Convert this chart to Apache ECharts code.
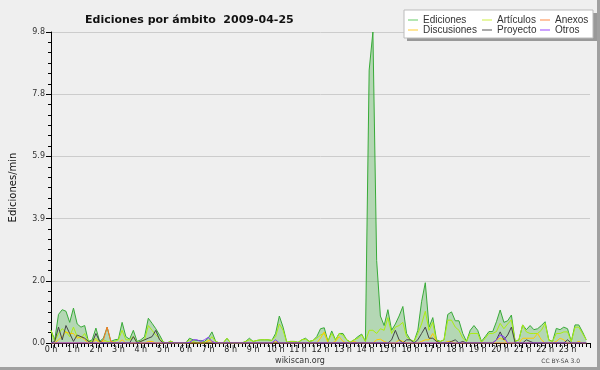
<!DOCTYPE html>
<html>
<head>
<meta charset="utf-8">
<script src="https://cdn.jsdelivr.net/npm/echarts@6/dist/echarts.min.js"></script>
<style>
html,body{margin:0;padding:0;background:#efefef;}
#c{width:600px;height:370px;}
</style>
</head>
<body>
<div id="c"></div>
<script>
// 10-minute slots, 0h .. 23h50
const hours = Array.from({length:144}, (_, i) => i / 6);
const yTicks = [0, 1.96, 3.92, 5.88, 7.84, 9.8];

const ediciones = [
0.4,0.1,0.9,1.05,1.0,0.65,1.1,0.6,0.5,0.55,0.05,0.1,
0.47,0.05,0.15,0.5,0.05,0.1,0.12,0.65,0.2,0.12,0.4,0.05,
0.1,0.2,0.78,0.62,0.45,0.25,0.03,0,0.06,0,0,0,
0,0.15,0.1,0.08,0.08,0.05,0.15,0.35,0.05,0,0,0.15,
0,0,0,0,0.05,0.15,0.05,0.08,0.1,0.1,0.1,0.08,
0.3,0.85,0.5,0.02,0.05,0.05,0.02,0.1,0.15,0.05,0.08,0.2,
0.45,0.48,0.05,0.38,0.1,0.3,0.3,0.1,0.03,0.1,0.2,0.28,
0.05,8.6,9.8,2.6,0.85,0.55,1.05,0.4,0.6,0.85,1.15,0.3,
0.1,0.05,0.4,1.3,1.9,0.5,0.8,0.1,0.05,0.1,0.9,0.98,
0.7,0.7,0.3,0.05,0.4,0.55,0.4,0.05,0.2,0.36,0.36,0.67,
1.04,0.65,0.7,0.88,0.05,0.1,0.57,0.42,0.55,0.42,0.45,0.55,
0.67,0.1,0.05,0.46,0.42,0.5,0.45,0.05,0.57,0.57,0.35,0.1
];
const articulos = [
0.4,0.05,0.3,0.45,0.35,0.2,0.5,0.2,0.15,0.3,0.05,0.05,
0.15,0.02,0.1,0.05,0.02,0.05,0.1,0.4,0.1,0.1,0.2,0.02,
0.05,0.1,0.55,0.4,0.25,0.15,0.03,0,0.06,0,0,0,
0,0.1,0.05,0,0,0,0.05,0.2,0.05,0,0,0.15,
0,0,0,0,0.05,0.1,0.05,0.08,0.1,0.1,0.1,0.08,
0.2,0.6,0.4,0.02,0.05,0.05,0.02,0.1,0.12,0.05,0.08,0.15,
0.25,0.3,0.05,0.3,0.08,0.3,0.25,0.1,0.03,0.1,0.15,0.25,
0.05,0.4,0.4,0.3,0.45,0.4,0.8,0.3,0.5,0.55,0.65,0.2,
0.1,0.05,0.3,0.6,1.0,0.4,0.65,0.05,0.05,0.1,0.72,0.72,
0.5,0.4,0.15,0.05,0.3,0.3,0.3,0.02,0.15,0.3,0.3,0.36,
0.62,0.45,0.6,0.73,0.05,0.1,0.57,0.35,0.3,0.3,0.3,0.4,
0.62,0.08,0.05,0.3,0.3,0.35,0.35,0.05,0.5,0.5,0.3,0.1
];
const anexos = [
0,0,0,0,0,0,0,0,0,0,0,0,
0,0,0.1,0.5,0.05,0,0,0,0,0,0,0,
0,0,0,0,0,0,0,0,0,0,0,0,
0,0,0,0,0,0,0,0,0,0,0,0,
0,0,0,0,0,0,0,0,0,0,0,0,
0,0,0,0,0,0,0,0,0,0,0,0,
0,0,0,0,0,0,0,0,0,0,0,0,
0,0,0,0,0,0,0,0,0,0,0,0,
0,0,0,0,0,0,0,0,0,0,0,0,
0,0,0,0,0,0,0,0,0,0,0,0,
0,0,0,0,0,0,0,0,0,0,0,0,
0,0,0,0,0,0,0,0,0,0,0,0
];
const discusiones = [
0,0,0.1,0.2,0.35,0.3,0.3,0.15,0.2,0.1,0,0,
0.1,0,0.05,0,0,0,0,0.1,0,0,0,0,
0,0,0.05,0.05,0,0,0,0,0,0,0,0,
0,0,0,0,0,0,0.08,0.05,0,0,0,0,
0,0,0,0,0,0,0,0,0,0,0,0,
0.05,0,0,0,0,0,0,0,0,0,0,0,
0.15,0.35,0,0,0.05,0.2,0.05,0,0,0.05,0,0,
0,0,0,0.1,0.12,0.05,0,0,0,0.1,0.05,0,
0,0,0,0.05,0.1,0.1,0.3,0.05,0,0,0.05,0.05,
0,0,0,0,0,0,0,0,0,0,0,0.1,
0.15,0.1,0,0,0,0,0.15,0.15,0.15,0.15,0.3,0.1,
0,0,0,0.05,0.15,0.1,0,0,0,0.05,0,0
];
const proyecto = [
0,0.05,0.5,0.1,0.55,0.3,0.05,0.25,0.2,0.15,0.05,0,
0.3,0.05,0,0,0,0,0,0,0,0,0.2,0,
0.05,0.1,0.15,0.2,0.4,0.1,0,0,0,0,0,0,
0,0,0,0,0,0,0,0,0,0,0,0,
0,0,0,0,0,0,0,0,0,0,0,0,
0,0,0,0,0,0,0,0,0,0,0,0,
0,0,0,0,0,0,0,0,0,0,0,0,
0,0,0,0,0,0,0,0.1,0.4,0.1,0,0.1,
0.1,0,0.1,0.3,0.5,0.15,0.15,0.05,0,0,0,0.05,
0.1,0,0.05,0,0,0,0,0,0,0,0,0.1,
0.35,0.1,0.25,0.5,0,0,0,0.1,0.05,0,0,0,
0,0,0,0,0,0,0.1,0,0,0,0,0
];
const otros = [
0,0,0,0,0,0,0,0,0,0,0,0,
0,0,0,0,0,0,0,0,0,0,0,0,
0,0,0,0,0,0,0,0,0,0,0,0,
0,0.02,0.1,0.1,0.05,0.1,0.18,0.05,0,0,0,0,
0,0,0,0,0,0,0,0,0,0,0,0,
0.1,0,0,0,0,0,0,0,0,0,0,0,
0,0,0,0,0,0,0,0,0,0,0,0,
0,0,0,0,0,0,0,0,0,0,0,0,
0,0,0,0,0,0,0,0,0,0,0,0,
0,0,0,0,0,0,0,0,0,0,0,0.1,
0.25,0.2,0,0,0,0,0,0,0,0,0,0,
0,0,0,0,0,0,0,0,0,0,0,0
];

const names = ['Ediciones','Artículos','Anexos','Discusiones','Proyecto','Otros'];
const colors = ['#38aa38','#aaee11','#ff7722','#ffcc00','#444444','#8833ff'];
const legendColors = ['#66cc66','#ccee44','#ff8844','#ffcc33','#555555','#9944ff'];
const values = [ediciones, articulos, anexos, discusiones, proyecto, otros];

const FONT = 'DejaVu Sans';
const chart = echarts.init(document.getElementById('c'), null, {renderer:'canvas'});

function mkLegend(items, left) {
  return {
    left: left, top: 15, orient: 'vertical', itemGap: 0, padding: 0,
    itemWidth: 10, itemHeight: 1, icon: 'rect', selectedMode: false, z: 20,
    textStyle: {fontSize: 10, fontFamily: 'Liberation Sans', color: '#333', lineHeight: 10},
    data: items.map(n => ({name: n, itemStyle: {color: legendColors[names.indexOf(n)]}}))
  };
}

const series = names.map((n, k) => ({
  name: n, type: 'line', showSymbol: false, symbol: 'none',
  data: values[k].map((v, i) => [hours[i], v]),
  lineStyle: {width: 1, color: colors[k]},
  itemStyle: {color: colors[k]},
  areaStyle: k === 0 ? {color: 'rgba(40,160,40,0.42)'} : undefined,
  z: k === 0 ? 2 : 3,
  silent: true
}));

chart.setOption({
  animation: false,
  backgroundColor: '#efefef',
  title: {
    text: 'Ediciones por ámbito  2009-04-25',
    left: 80, top: 10,
    textStyle: {fontSize: 11, fontWeight: 'bold', fontFamily: FONT, color: '#111'}
  },
  legend: [
    mkLegend(['Ediciones','Discusiones'], 408),
    mkLegend(['Artículos','Proyecto'], 482),
    mkLegend(['Anexos','Otros'], 540)
  ],
  grid: {left: 45, right: 10, top: 32, bottom: 27, containLabel: false},
  xAxis: {
    type: 'value', min: 0, max: 24, interval: 1,
    axisLine: {show: true, lineStyle: {color: '#000', width: 1}},
    axisTick: {show: true, length: 5, lineStyle: {color: '#000'}},
    minorTick: {show: true, splitNumber: 6, length: 4, lineStyle: {color: '#000'}},
    splitLine: {show: false},
    axisLabel: {formatter: v => (v < 24 ? v + ' h' : ''), fontSize: 8, fontFamily: FONT, color: '#222', margin: 3}
  },
  yAxis: {
    type: 'value', min: 0, max: yTicks[yTicks.length - 1], interval: yTicks[1],
    name: 'Ediciones/min', nameLocation: 'middle', nameGap: 33,
    nameTextStyle: {fontSize: 10, fontFamily: FONT, color: '#111'},
    axisLine: {show: true, lineStyle: {color: '#000', width: 1}},
    axisTick: {show: true, length: 5, lineStyle: {color: '#000'}},
    minorTick: {show: true, splitNumber: 6, length: 3, lineStyle: {color: '#000'}},
    splitLine: {show: true, lineStyle: {color: '#cccccc', width: 1}},
    axisLabel: {formatter: v => v.toFixed(1), fontSize: 8, fontFamily: FONT, color: '#333', margin: 6}
  },
  graphic: [
    {type: 'rect', z: 5, shape: {x: 407, y: 13, width: 190, height: 28}, style: {fill: '#999'}},
    {type: 'rect', z: 6, shape: {x: 404, y: 10, width: 189, height: 28}, style: {fill: '#fff', stroke: '#bbb', lineWidth: 1}},
    {type: 'rect', z: 6, shape: {x: 597, y: 0, width: 3, height: 370}, style: {fill: '#a0a0a0'}},
    {type: 'rect', z: 6, shape: {x: 0, y: 367, width: 600, height: 3}, style: {fill: '#a0a0a0'}},
    {type: 'text', z: 6, x: 300, y: 361, style: {text: 'wikiscan.org', fontSize: 8, fontFamily: FONT, fill: '#333', align: 'center', verticalAlign: 'middle'}},
    {type: 'text', z: 6, x: 580, y: 361, style: {text: 'CC BY-SA 3.0', fontSize: 6, fontFamily: FONT, fill: '#444', align: 'right', verticalAlign: 'middle'}}
  ],
  series: series
});
</script>
</body>
</html>
